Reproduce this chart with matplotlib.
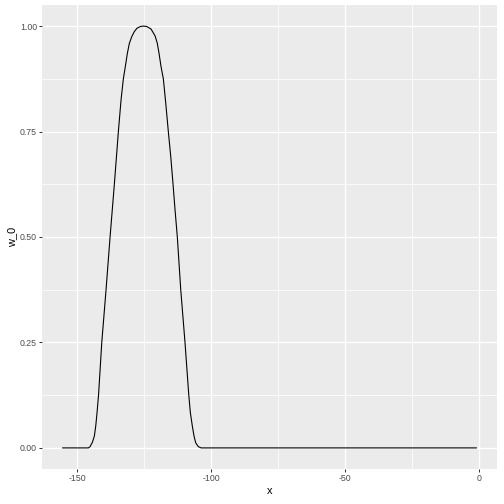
import matplotlib
matplotlib.use("Agg")
import matplotlib.pyplot as plt

x_vals = [-155.5, -145.9, -145.28, -144.42, -143.67, -143.15, -142.66, -142.1,
          -140.9, -139.3, -137.8, -136.2, -134.7, -133.7, -132.84, -132.1,
          -131.35, -130.6, -129.7, -128.74, -127.73, -126.5, -125.3, -124.1,
          -122.5, -121.0, -120.15, -119.5, -118.77, -117.9, -117.0, -116.04,
          -115.14, -114.28, -113.54, -112.68, -111.4, -109.8, -108.42, -107.82,
          -107.08, -106.44, -105.81, -104.84, -103.8, -1.0]
w_vals = [0.0, 0.0, 0.003, 0.013, 0.028, 0.052, 0.084, 0.126,
          0.25, 0.375, 0.5, 0.625, 0.75, 0.825, 0.875, 0.904,
          0.935, 0.959, 0.975, 0.987, 0.995, 0.999, 1.0, 0.999,
          0.993, 0.977, 0.959, 0.935, 0.904, 0.875, 0.817, 0.75,
          0.691, 0.625, 0.565, 0.5, 0.375, 0.249, 0.127, 0.084,
          0.052, 0.028, 0.012, 0.003, 0.0, 0.0]

x_ticks = [-150, -100, -50, 0]
x_tick_labels = ["-150", "-100", "-50", "0"]
y_ticks = [0.0, 0.25, 0.5, 0.75, 1.0]
y_tick_labels = ["0.00", "0.25", "0.50", "0.75", "1.00"]
x_minor = [-125, -75, -25]
y_minor = [0.125, 0.375, 0.625, 0.875]

plt.rcParams['font.family'] = ['Liberation Sans', 'DejaVu Sans']

fig = plt.figure(figsize=(7, 7), dpi=72)
ax = fig.add_axes([42/504, 35/504, 455/504, 464/504])
ax.set_facecolor('#EBEBEB')
for s in ax.spines.values():
    s.set_visible(False)

xmin, xmax = min(x_vals), max(x_vals)
xr = xmax - xmin
ax.set_xlim(xmin - 0.05*xr, xmax + 0.05*xr)
ax.set_ylim(-0.05, 1.05)

for v in x_minor:
    ax.axvline(v, color='white', lw=0.7, zorder=0)
for v in y_minor:
    ax.axhline(v, color='white', lw=0.7, zorder=0)
for v in x_ticks:
    ax.axvline(v, color='white', lw=1.4, zorder=0)
for v in y_ticks:
    ax.axhline(v, color='white', lw=1.4, zorder=0)

ax.plot(x_vals, w_vals, color='black', lw=1.1, zorder=3)

ax.set_xticks(x_ticks)
ax.set_xticklabels(x_tick_labels)
ax.set_yticks(y_ticks)
ax.set_yticklabels(y_tick_labels)
ax.tick_params(axis='both', length=2.75, width=1.0, color='#333333',
               labelcolor='#4D4D4D', labelsize=8.8, pad=2.2)
ax.set_xlabel('x', fontsize=11, color='black', labelpad=3)
ax.set_ylabel('w_0', fontsize=11, color='black', labelpad=3)

fig.savefig('out.png', dpi=72)
